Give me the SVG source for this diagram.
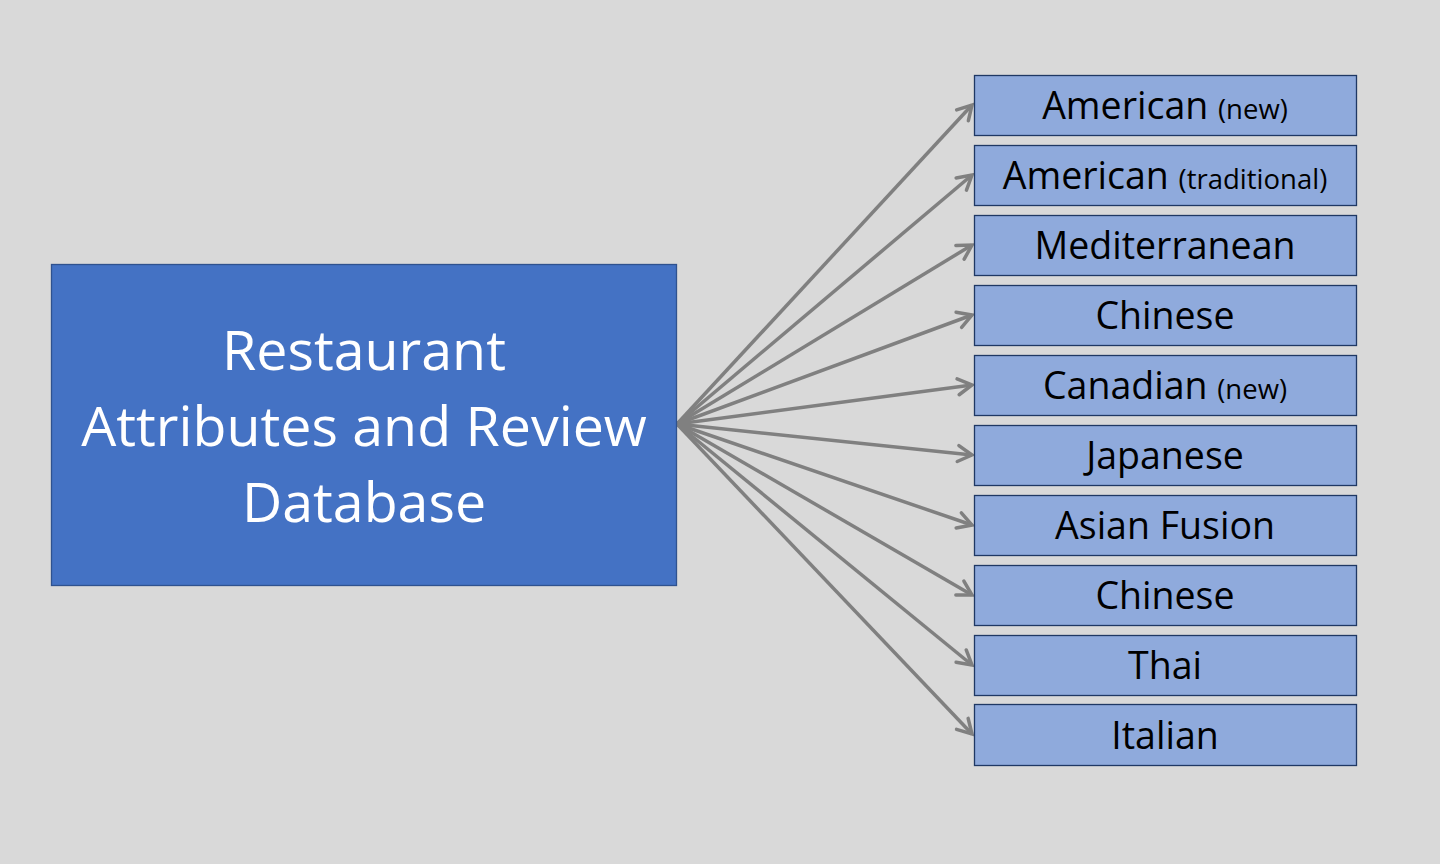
<svg xmlns="http://www.w3.org/2000/svg" width="1440" height="864" viewBox="0 0 1440 864">
<defs>
<style>
.bg{fill:#D9D9D9}
.main{fill:#4472C4;stroke:#2F528F;stroke-width:1.3}
.cat{fill:#8FAADC;stroke:#1F3864;stroke-width:1.3}
.mt{font-family:"Open Sans","Noto Sans",sans-serif;font-size:55.5px;fill:#FFFFFF;text-anchor:middle}
.ct{font-family:"Open Sans","Noto Sans",sans-serif;font-size:37.5px;fill:#000000;text-anchor:middle}
.sm{font-size:27.5px}
.conn line{stroke:#808080;stroke-width:3.5;fill:none;marker-end:url(#ah)}
</style>
<marker id="ah" markerUnits="userSpaceOnUse" markerWidth="24" markerHeight="24" refX="17" refY="10" orient="auto" viewBox="0 0 24 20">
<path d="M3,2 L17,10 L3,18" fill="none" stroke="#808080" stroke-width="3.5" stroke-linecap="round" stroke-linejoin="miter"/>
</marker>
</defs>
<rect class="bg" x="0" y="0" width="1440" height="864"/>
<g id="connectors" class="conn">
<line x1="677" y1="424" x2="972" y2="105"/>
<line x1="677" y1="424" x2="972" y2="175"/>
<line x1="677" y1="424" x2="972" y2="245"/>
<line x1="677" y1="424" x2="972" y2="315"/>
<line x1="677" y1="424" x2="972" y2="385"/>
<line x1="677" y1="424" x2="972" y2="455"/>
<line x1="677" y1="424" x2="972" y2="525"/>
<line x1="677" y1="424" x2="972" y2="595"/>
<line x1="677" y1="424" x2="972" y2="665"/>
<line x1="677" y1="424" x2="972" y2="734"/>
</g>
<g id="database">
<rect class="main" x="51.5" y="264.5" width="625" height="321"/>
<text class="mt" x="364" y="370">Restaurant</text>
<text class="mt" x="364" y="446">Attributes and Review</text>
<text class="mt" x="364" y="522">Database</text>
</g>
<g id="n1"><rect class="cat" x="974.5" y="75.5" width="382" height="60"/><text class="ct" x="1165" y="119">American <tspan class="sm">(new)</tspan></text></g>
<g id="n2"><rect class="cat" x="974.5" y="145.5" width="382" height="60"/><text class="ct" x="1165" y="189">American <tspan class="sm">(traditional)</tspan></text></g>
<g id="n3"><rect class="cat" x="974.5" y="215.5" width="382" height="60"/><text class="ct" x="1165" y="259">Mediterranean</text></g>
<g id="n4"><rect class="cat" x="974.5" y="285.5" width="382" height="60"/><text class="ct" x="1165" y="329">Chinese</text></g>
<g id="n5"><rect class="cat" x="974.5" y="355.5" width="382" height="60"/><text class="ct" x="1165" y="399">Canadian <tspan class="sm">(new)</tspan></text></g>
<g id="n6"><rect class="cat" x="974.5" y="425.5" width="382" height="60"/><text class="ct" x="1165" y="469">Japanese</text></g>
<g id="n7"><rect class="cat" x="974.5" y="495.5" width="382" height="60"/><text class="ct" x="1165" y="539">Asian Fusion</text></g>
<g id="n8"><rect class="cat" x="974.5" y="565.5" width="382" height="60"/><text class="ct" x="1165" y="609">Chinese</text></g>
<g id="n9"><rect class="cat" x="974.5" y="635.5" width="382" height="60"/><text class="ct" x="1165" y="679">Thai</text></g>
<g id="n10"><rect class="cat" x="974.5" y="704.5" width="382" height="61"/><text class="ct" x="1165" y="749">Italian</text></g>
</svg>
